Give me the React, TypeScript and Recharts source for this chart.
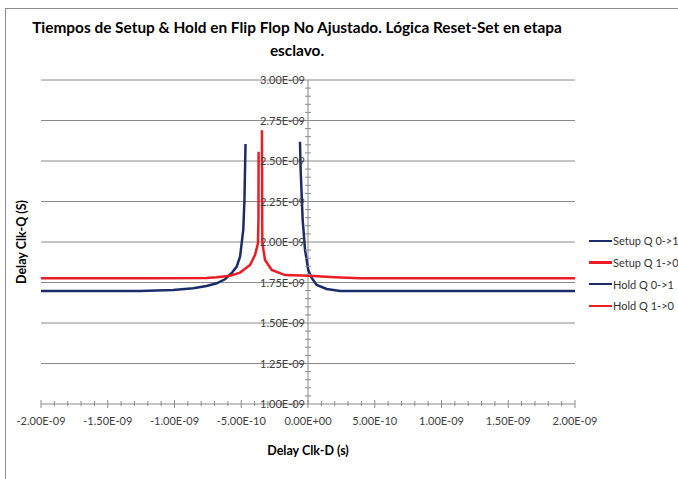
import { LineChart, Line, XAxis, YAxis, ReferenceLine, Legend } from "recharts";

// x values in seconds, y values in seconds
const setup01X = [-2.0e-9, -1.6e-9, -1.26e-9, -1.01e-9, -0.86e-9, -0.76e-9, -0.684e-9, -0.622e-9, -0.572e-9, -0.534e-9, -0.509e-9, -0.497e-9, -0.485e-9, -0.476e-9, -0.468e-9];
const setup01Y = [1.697e-9, 1.698e-9, 1.698e-9, 1.704e-9, 1.714e-9, 1.728e-9, 1.745e-9, 1.77e-9, 1.807e-9, 1.848e-9, 1.909e-9, 1.992e-9, 2.074e-9, 2.26e-9, 2.605e-9];

const setup10X = [-2.0e-9, -1.2e-9, -0.76e-9, -0.684e-9, -0.584e-9, -0.509e-9, -0.434e-9, -0.397e-9, -0.375e-9, -0.371e-9, -0.37e-9];
const setup10Y = [1.776e-9, 1.776e-9, 1.778e-9, 1.782e-9, 1.792e-9, 1.811e-9, 1.858e-9, 1.92e-9, 1.99e-9, 2.14e-9, 2.557e-9];

const hold01X = [-0.06e-9, -0.055e-9, -0.04e-9, -0.022e-9, 0.002e-9, 0.028e-9, 0.065e-9, 0.14e-9, 0.24e-9, 0.6e-9, 1.2e-9, 2.0e-9];
const hold01Y = [2.619e-9, 2.444e-9, 2.136e-9, 1.95e-9, 1.827e-9, 1.778e-9, 1.735e-9, 1.71e-9, 1.698e-9, 1.697e-9, 1.697e-9, 1.697e-9];

const hold10X = [-0.345e-9, -0.343e-9, -0.342e-9, -0.322e-9, -0.272e-9, -0.172e-9, 0.007e-9, 0.2e-9, 0.39e-9, 1.0e-9, 2.0e-9];
const hold10Y = [2.69e-9, 2.136e-9, 1.994e-9, 1.889e-9, 1.827e-9, 1.796e-9, 1.792e-9, 1.783e-9, 1.776e-9, 1.776e-9, 1.776e-9];

const seriesNames = ["Setup Q 0->1", "Setup Q 1->0", "Hold Q 0->1", "Hold Q 1->0"];
const xMajorTicks = [-2e-9, -1.5e-9, -1e-9, -0.5e-9, 0, 0.5e-9, 1e-9, 1.5e-9, 2e-9];
const yMajorTicks = [1e-9, 1.25e-9, 1.5e-9, 1.75e-9, 2e-9, 2.25e-9, 2.5e-9, 2.75e-9, 3e-9];

const X_MIN = -2e-9;
const X_MAX = 2e-9;
const Y_MIN = 1e-9;
const Y_MAX = 3e-9;
const X_MINOR = 1e-10;
const Y_MINOR = 0.5e-10;

const NAVY = "#1b2c6b";
const RED = "#ec1c24";
const GRID = "#8a8a8a";
const FONT = "Lato, 'Open Sans', sans-serif";

const W = 678;
const H = 479;
const Y_AXIS_W = 1;
const M = { top: 80, right: 103, bottom: 45, left: 40 };
const PLOT_LEFT = M.left + Y_AXIS_W;
const PLOT_W = W - PLOT_LEFT - M.right;
const ZERO_PX = PLOT_LEFT + ((0 - X_MIN) / (X_MAX - X_MIN)) * PLOT_W;

const zip = (xs: number[], ys: number[]) => xs.map((x, i) => ({ x, y: ys[i] }));

const xTicks: number[] = [];
for (let i = Math.round(X_MIN / X_MINOR); i <= Math.round(X_MAX / X_MINOR); i++) xTicks.push(i * X_MINOR);
const yTicks: number[] = [];
for (let i = Math.round(Y_MIN / Y_MINOR); i <= Math.round(Y_MAX / Y_MINOR); i++) yTicks.push(i * Y_MINOR);

const fmt = (v: number) => {
  if (Math.abs(v) < 1e-15) return "0.00E+00";
  const [m, e] = v.toExponential(2).split("e");
  const n = parseInt(e, 10);
  return `${m}E${n < 0 ? "-" : "+"}${String(Math.abs(n)).padStart(2, "0")}`;
};

const isMajor = (v: number, list: number[]) => list.some((t) => Math.abs(t - v) < 1e-13);

const XTick = (props: any) => {
  const { x, y, payload } = props;
  const major = isMajor(payload.value, xMajorTicks);
  return (
    <g>
      <line x1={x} x2={x} y1={y - (major ? 4 : 3)} y2={y + (major ? 4 : 2)} stroke={GRID} />
      {major && (
        <text x={x} y={y + 21} textAnchor="middle" fontSize={11} fontFamily={FONT} fill="#404040">
          {fmt(payload.value)}
        </text>
      )}
    </g>
  );
};

const YTick = (props: any) => {
  const { y, payload } = props;
  const major = isMajor(payload.value, yMajorTicks);
  return (
    <g>
      {!major && <line x1={ZERO_PX - 3} x2={ZERO_PX + 3} y1={y} y2={y} stroke={GRID} />}
      {major && (
        <text x={ZERO_PX - 3} y={y + 4} textAnchor="end" fontSize={11} fontFamily={FONT} fill="#404040">
          {fmt(payload.value)}
        </text>
      )}
    </g>
  );
};

const LegendBox = (props: any) => {
  const items = [...(props.payload || [])].sort(
    (a: any, b: any) => seriesNames.indexOf(a.value) - seriesNames.indexOf(b.value)
  );
  return (
    <div style={{ fontFamily: FONT, fontSize: 11, color: "#333" }}>
      {items.map((it: any) => (
        <div key={it.value} style={{ display: "flex", alignItems: "center", height: 21.7 }}>
          <div style={{ width: 23, height: 2.5, background: it.color, marginRight: 1 }} />
          <span>{it.value}</span>
        </div>
      ))}
    </div>
  );
};

export default function App() {
  const series = [
    { name: seriesNames[0], data: zip(setup01X, setup01Y), color: NAVY },
    { name: seriesNames[1], data: zip(setup10X, setup10Y), color: RED },
    { name: seriesNames[2], data: zip(hold01X, hold01Y), color: NAVY },
    { name: seriesNames[3], data: zip(hold10X, hold10Y), color: RED },
  ];
  return (
    <div style={{ position: "absolute", left: 0, top: 0, width: W, height: H, overflow: "hidden", background: "#fff" }}>
      <div style={{ position: "absolute", left: 5, top: 8, width: 720, height: 520, border: "1px solid #8c8c8c" }} />
      <div
        style={{
          position: "absolute",
          left: 0,
          top: 16,
          width: 594,
          textAlign: "center",
          fontFamily: FONT,
          fontWeight: 700,
          fontSize: 15.4,
          lineHeight: "23px",
          color: "#000",
        }}
      >
        Tiempos de Setup &amp; Hold en Flip Flop No Ajustado. Lógica Reset-Set en etapa
        <br />
        esclavo.
      </div>
      <div
        style={{
          position: "absolute",
          left: 21,
          top: 242,
          transform: "translate(-50%, -50%) rotate(-90deg)",
          whiteSpace: "nowrap",
          fontFamily: FONT,
          fontWeight: 700,
          fontSize: 12.5,
          color: "#000",
        }}
      >
        Delay Clk-Q (S)
      </div>
      <div style={{ position: "absolute", left: 0, top: 0 }}>
        <LineChart width={W} height={H} margin={M}>
          <XAxis
            type="number"
            dataKey="x"
            domain={[X_MIN, X_MAX]}
            ticks={xTicks}
            interval={0}
            allowDataOverflow
            height={30}
            tickSize={0}
            tickMargin={0}
            tickLine={false}
            axisLine={{ stroke: GRID }}
            tick={<XTick />}
            label={{
              value: "Delay Clk-D (s)",
              position: "bottom",
              offset: 12,
              style: { fontFamily: FONT, fontWeight: 700, fontSize: 12.5, fill: "#000" },
            }}
          />
          <YAxis
            type="number"
            dataKey="y"
            domain={[Y_MIN, Y_MAX]}
            ticks={yTicks}
            interval={0}
            allowDataOverflow
            width={Y_AXIS_W}
            tickSize={0}
            tickMargin={0}
            tickLine={false}
            axisLine={false}
            tick={<YTick />}
          />
          {yMajorTicks.slice(1).map((v) => (
            <ReferenceLine key={v} y={v} stroke={GRID} strokeWidth={1} />
          ))}
          <ReferenceLine x={0} stroke={GRID} strokeWidth={1} />
          {series.map((s) => (
            <Line
              key={s.name}
              data={s.data}
              dataKey="y"
              name={s.name}
              type="linear"
              stroke={s.color}
              strokeWidth={2.5}
              dot={false}
              activeDot={false}
              isAnimationActive={false}
            />
          ))}
          <Legend
            layout="vertical"
            align="center"
            verticalAlign="middle"
            content={<LegendBox />}
            wrapperStyle={{ left: 589, top: 230, width: 90 }}
          />
        </LineChart>
      </div>
    </div>
  );
}
